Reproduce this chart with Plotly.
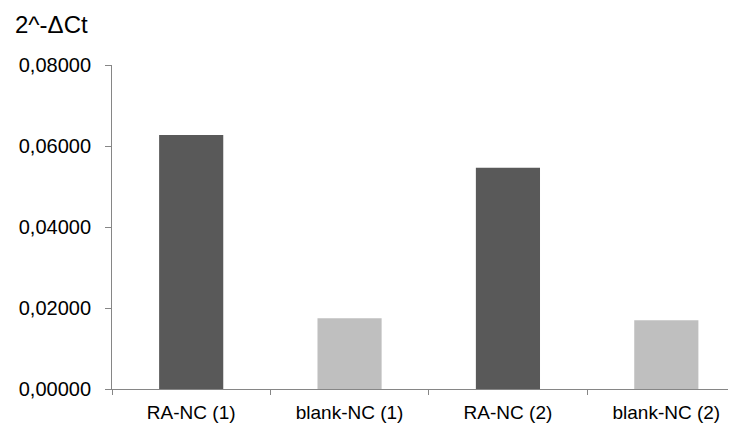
import plotly.graph_objects as go

categories = ["RA-NC (1)", "blank-NC (1)", "RA-NC (2)", "blank-NC (2)"]
values = [0.0627, 0.0175, 0.0546, 0.0170]
colors = ["#595959", "#BFBFBF", "#595959", "#BFBFBF"]
y_ticks = [0, 0.02, 0.04, 0.06, 0.08]
title_text = "2^-ΔCt"

# the page body adds an 8px offset; size the figure to fill the rest of the window
W, H = 728, 415
L, R, T, B = 104, 0, 57, 34
PW, PH = W - L - R, H - T - B

fig = go.Figure(go.Bar(x=categories, y=values,
                       marker=dict(color=colors, line=dict(width=0)), width=0.405))

fig.update_layout(
    width=W, height=H,
    margin=dict(l=L, r=R, t=T, b=B, autoexpand=False),
    paper_bgcolor="white", plot_bgcolor="white",
    separators=",.",
    showlegend=False,
    font=dict(family="Liberation Sans, Arial, sans-serif", color="#000000"),
)
fig.update_xaxes(
    type="category", range=[-0.5, 3.44],
    showline=True, linecolor="#868686", linewidth=1,
    ticks="outside", tickson="boundaries", ticklen=5, tickcolor="#868686",
    showgrid=False, tickfont=dict(size=19, color="#000000"), ticklabelstandoff=6,
)
fig.update_yaxes(
    range=[0, 0.08], tickvals=y_ticks, tickformat=".5f",
    showline=True, linecolor="#868686", linewidth=1,
    ticks="outside", ticklen=6, tickcolor="#868686",
    showgrid=False, zeroline=False,
    tickfont=dict(size=20, color="#000000"), ticklabelstandoff=10,
)
fig.add_annotation(
    text=title_text, xref="paper", yref="paper",
    x=(5 - L) / PW, y=(H - B - 16) / PH,
    xanchor="left", yanchor="middle", showarrow=False,
    font=dict(size=24, color="#000000"),
)
fig.write_html("out.html")
